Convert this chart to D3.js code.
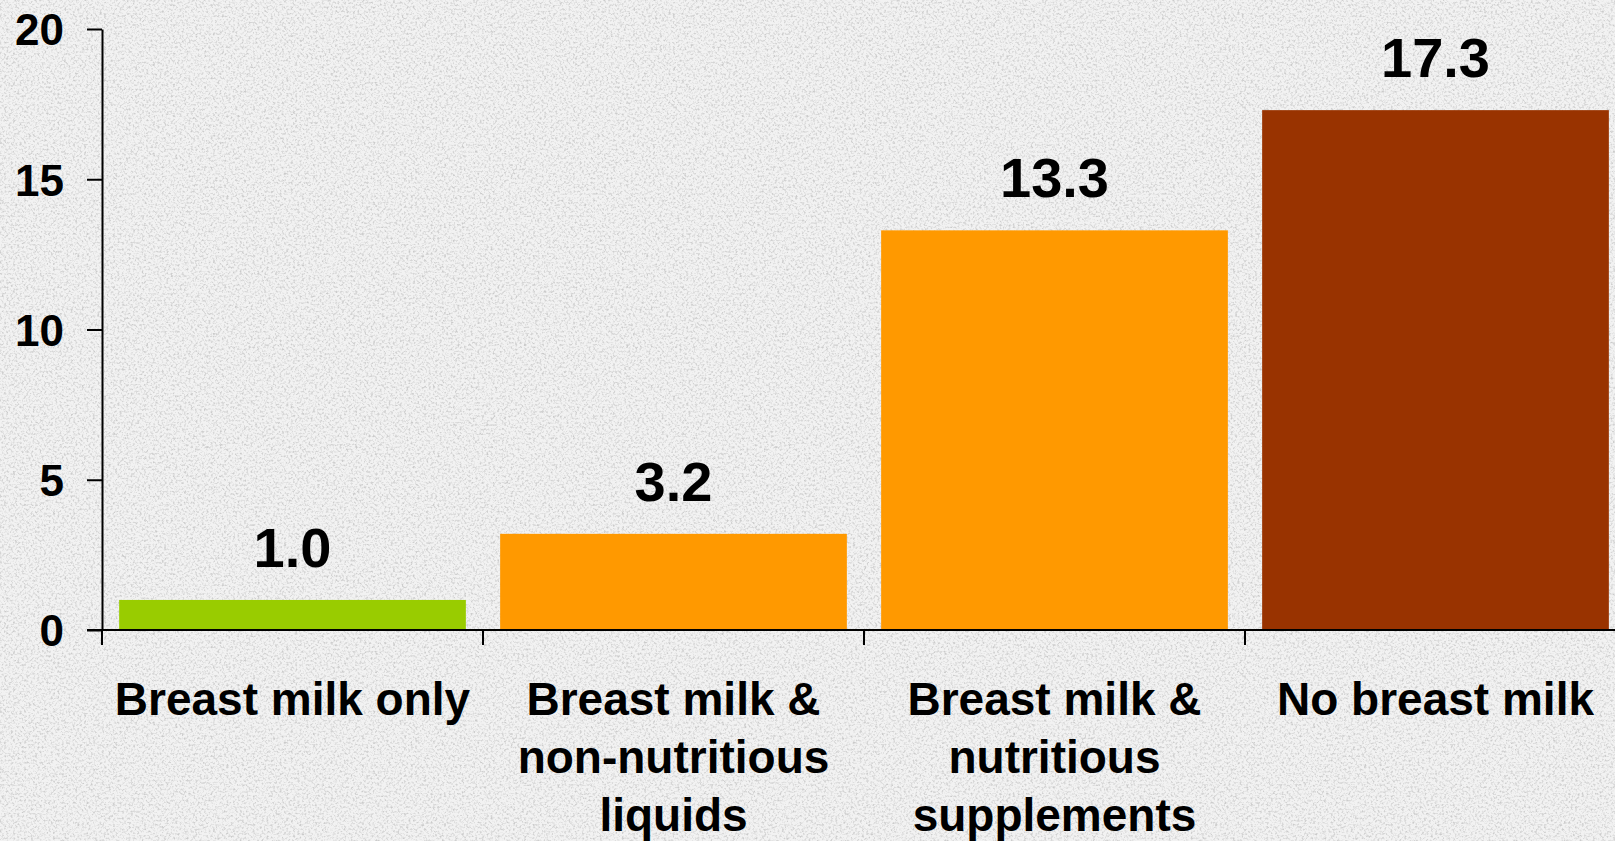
<!DOCTYPE html>
<html>
<head>
<meta charset="utf-8">
<script src="https://cdn.jsdelivr.net/npm/d3@7"></script>
<style>
  body { margin: 0; background: #ececec; }
  text { font-family: "Liberation Sans", Arial, sans-serif; font-weight: bold; fill: #000; }
</style>
</head>
<body>
<div id="chart-container"></div>
<script>
// Chart data
const categories = ["Breast milk only", "Breast milk & non-nutritious liquids", "Breast milk & nutritious supplements", "No breast milk"];
const labelLines = [
  ["Breast milk only"],
  ["Breast milk &", "non-nutritious", "liquids"],
  ["Breast milk &", "nutritious", "supplements"],
  ["No breast milk"]
];
const values = [1.0, 3.2, 13.3, 17.3];
const barColors = ["#99cc00", "#ff9900", "#ff9900", "#993300"];
const yTicks = [0, 5, 10, 15, 20];

// Dimensions
const width = 1615;
const height = 841;
const marginLeft = 102;
const marginTop = 29;
const baseline = 630;
const step = 381;

const x = d3.scaleBand()
    .domain(categories)
    .range([marginLeft, marginLeft + step * categories.length])
    .paddingInner(0.09)
    .paddingOuter(0.045);

const y = d3.scaleLinear()
    .domain([0, 20])
    .range([baseline, marginTop]);

const svg = d3.create("svg")
    .attr("width", width)
    .attr("height", height);

// grainy stone background
const defs = svg.append("defs");
const filter = defs.append("filter").attr("id", "grain")
    .attr("x", 0).attr("y", 0).attr("width", "100%").attr("height", "100%");
filter.append("feTurbulence")
    .attr("type", "fractalNoise")
    .attr("baseFrequency", 0.45)
    .attr("numOctaves", 3)
    .attr("seed", 7);
filter.append("feColorMatrix")
    .attr("type", "matrix")
    .attr("values", "0 0 0 0 0.6  0 0 0 0 0.6  0 0 0 0 0.6  2.8 0 0 0 -1.3");

svg.append("rect").attr("width", width).attr("height", height).attr("fill", "#f2f2f2");
svg.append("rect").attr("width", width).attr("height", height).attr("filter", "url(#grain)");

// Bars
svg.append("g")
  .selectAll("rect")
  .data(values)
  .join("rect")
    .attr("x", (d, i) => x(categories[i]))
    .attr("y", d => y(d))
    .attr("width", x.bandwidth())
    .attr("height", d => y(0) - y(d))
    .attr("fill", (d, i) => barColors[i]);

// Value labels
svg.append("g")
  .selectAll("text")
  .data(values)
  .join("text")
    .attr("x", (d, i) => x(categories[i]) + x.bandwidth() / 2)
    .attr("y", d => y(d) - 33)
    .attr("text-anchor", "middle")
    .attr("font-size", 56)
    .text(d => d.toFixed(1));

// Y axis
const yAxis = svg.append("g")
    .attr("transform", `translate(${marginLeft},0)`)
    .call(d3.axisLeft(y).tickValues(yTicks).tickSize(15).tickSizeOuter(0).tickPadding(23));
yAxis.select(".domain").attr("stroke", "#000").attr("stroke-width", 2);
yAxis.selectAll(".tick line").attr("stroke", "#000").attr("stroke-width", 2);
yAxis.selectAll(".tick text")
    .attr("font-size", 44)
    .attr("font-family", "Liberation Sans, Arial, sans-serif")
    .attr("font-weight", "bold")
    .attr("dy", "0.36em");

// X axis line and category boundary ticks
svg.append("line")
    .attr("x1", marginLeft - 15).attr("x2", width)
    .attr("y1", y(0)).attr("y2", y(0))
    .attr("stroke", "#000").attr("stroke-width", 2);

const bounds = categories.map((c, i) => i === 0 ? marginLeft : x(c) - x.step() * x.paddingInner() / 2);
svg.append("g")
  .selectAll("line")
  .data(bounds)
  .join("line")
    .attr("x1", d => d).attr("x2", d => d)
    .attr("y1", y(0)).attr("y2", y(0) + 15)
    .attr("stroke", "#000").attr("stroke-width", 2);

// Category labels
const catLabels = svg.append("g")
  .selectAll("text")
  .data(categories)
  .join("text")
    .attr("x", d => x(d) + x.bandwidth() / 2)
    .attr("y", 715)
    .attr("text-anchor", "middle")
    .attr("font-size", 46);
catLabels.selectAll("tspan")
  .data((d, i) => labelLines[i])
  .join("tspan")
    .attr("x", function() { return this.parentNode.getAttribute("x"); })
    .attr("dy", (d, i) => i === 0 ? 0 : 58)
    .text(d => d);

d3.select("#chart-container").append(() => svg.node());
</script>
</body>
</html>
